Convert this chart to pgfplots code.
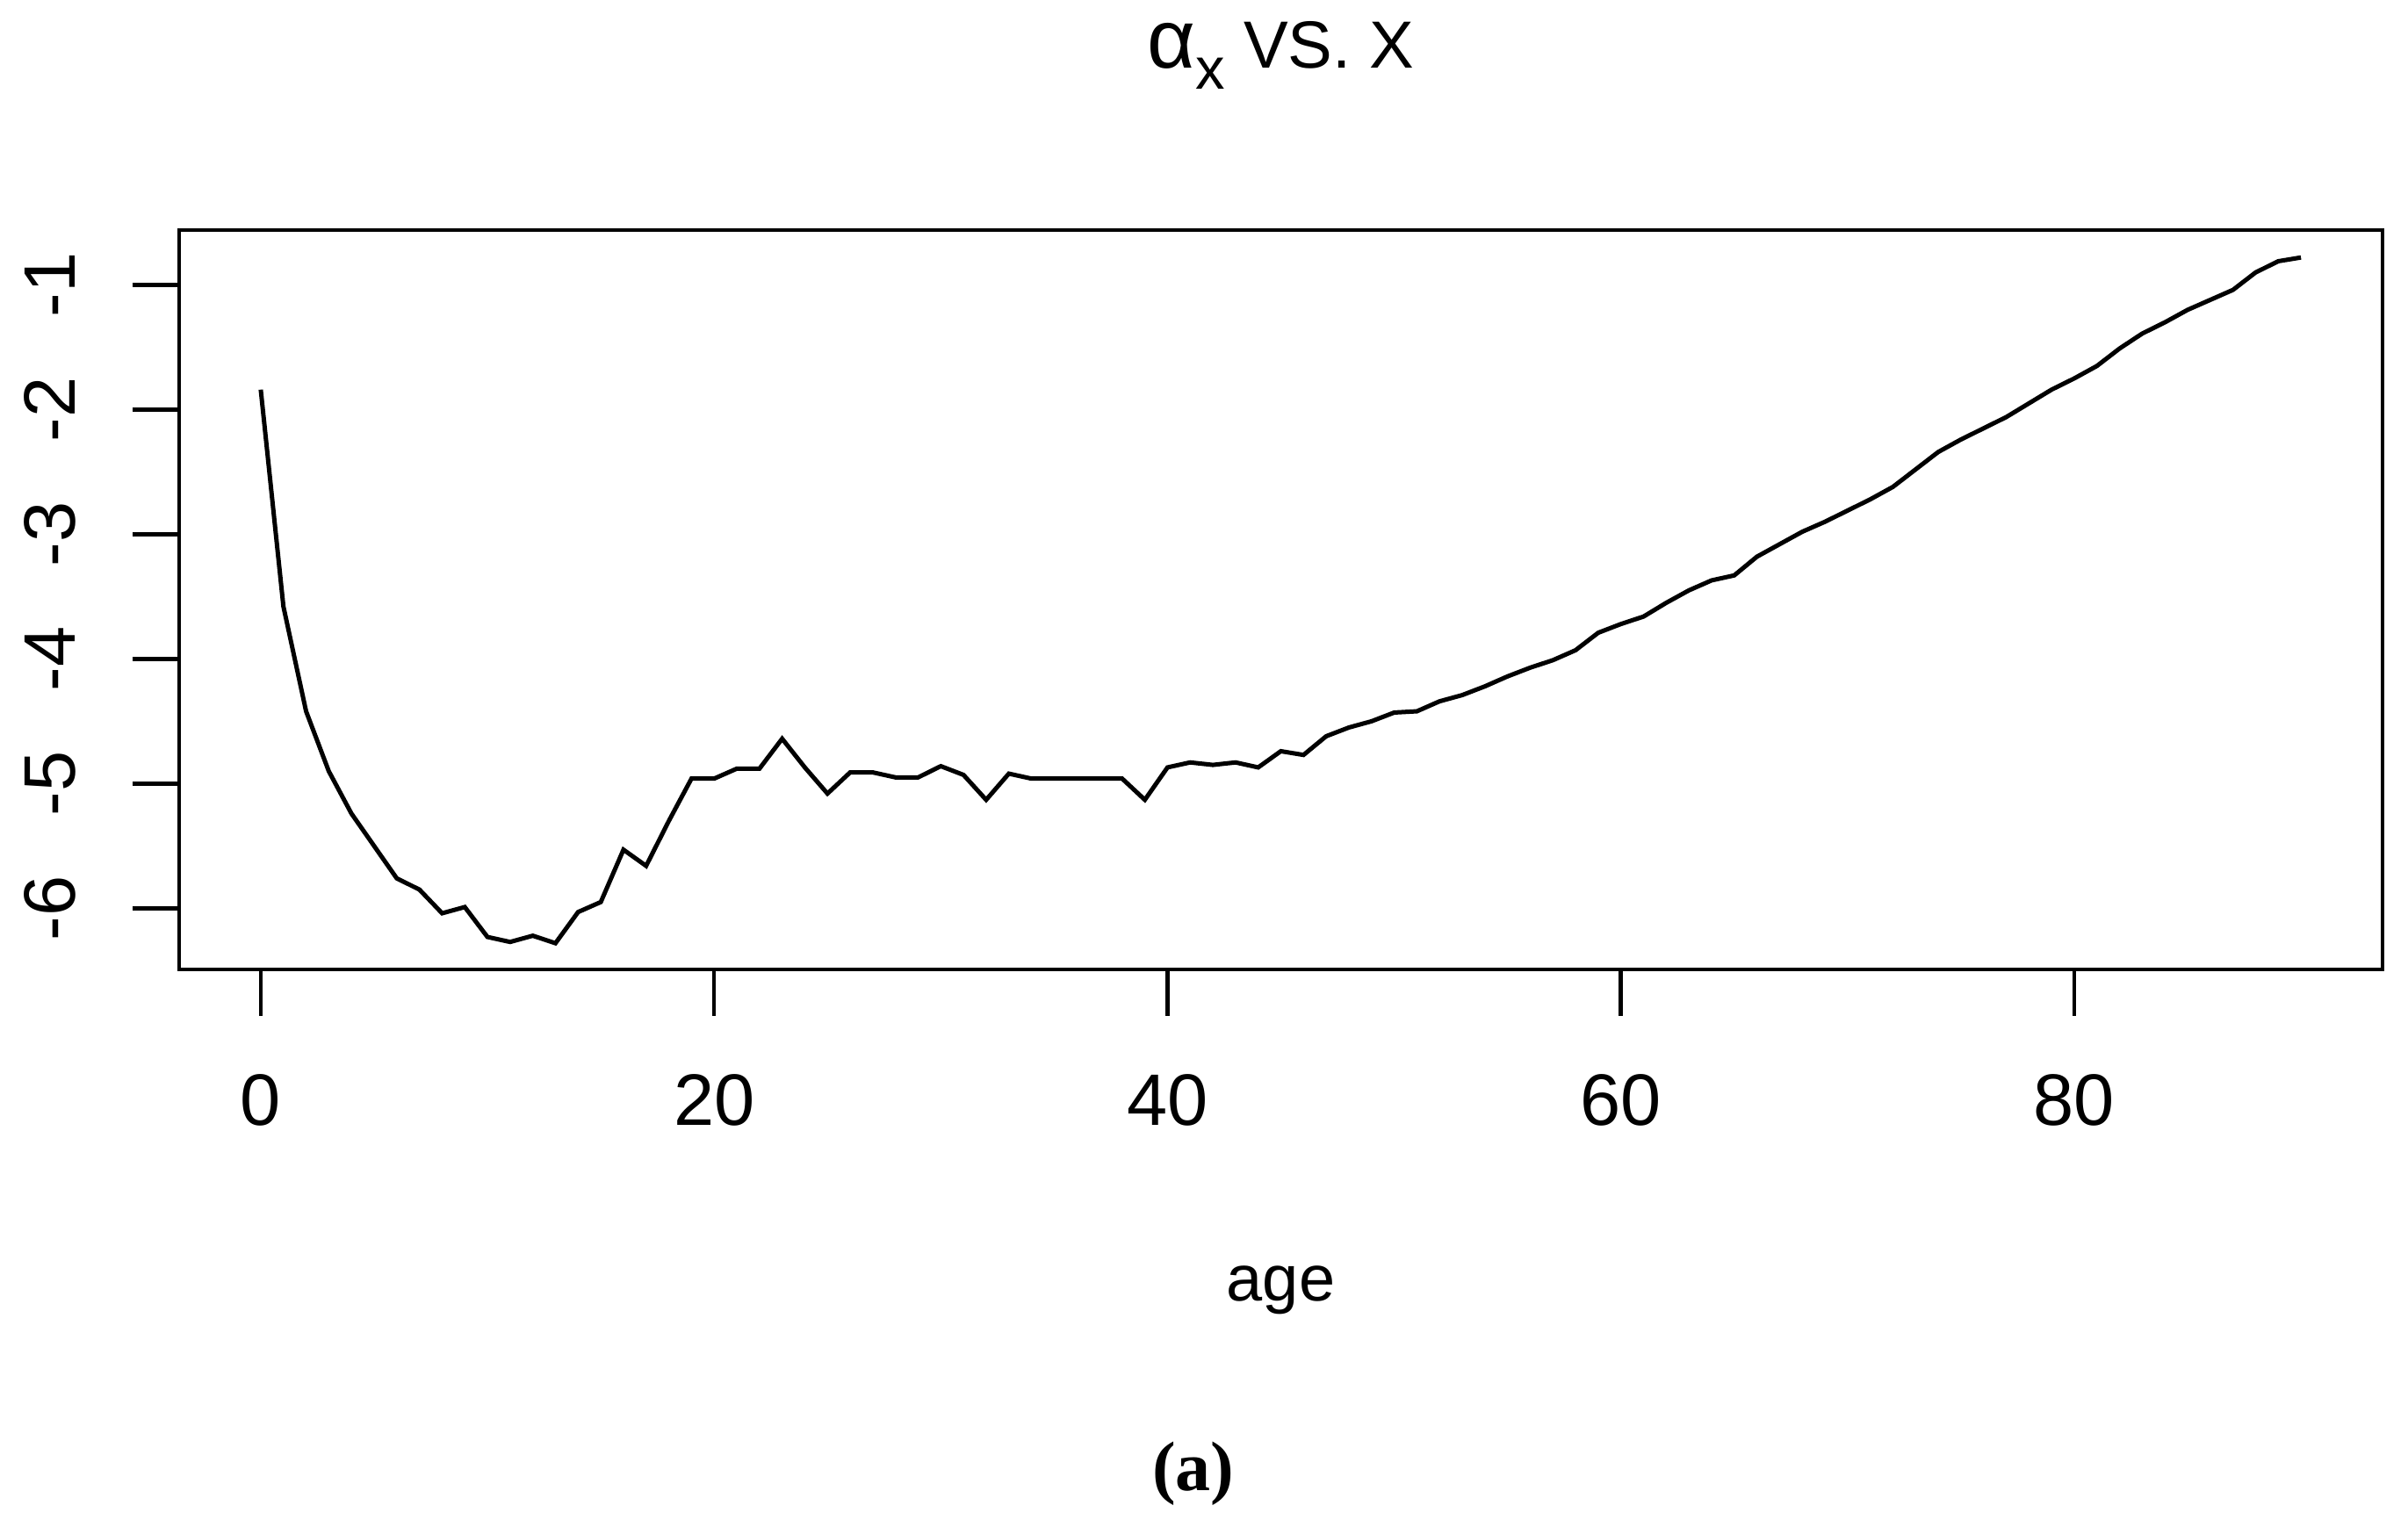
\documentclass[border=0pt]{standalone}
\usepackage{pgfplots}
\pgfplotsset{compat=1.18}
\usepackage{fontspec}
\setmainfont{Liberation Sans}
\newfontfamily\capfont{Liberation Serif}

\pgfplotstableread{
age ax
0 -1.84
1 -3.58
2 -4.42
3 -4.90
4 -5.24
5 -5.50
6 -5.76
7 -5.85
8 -6.04
9 -5.99
10 -6.23
11 -6.27
12 -6.22
13 -6.28
14 -6.03
15 -5.95
16 -5.53
17 -5.66
18 -5.30
19 -4.96
20 -4.96
21 -4.88
22 -4.88
23 -4.64
24 -4.87
25 -5.08
26 -4.91
27 -4.91
28 -4.95
29 -4.95
30 -4.86
31 -4.93
32 -5.13
33 -4.92
34 -4.96
35 -4.96
36 -4.96
37 -4.96
38 -4.96
39 -5.13
40 -4.87
41 -4.83
42 -4.85
43 -4.83
44 -4.87
45 -4.74
46 -4.77
47 -4.62
48 -4.55
49 -4.50
50 -4.43
51 -4.42
52 -4.34
53 -4.29
54 -4.22
55 -4.14
56 -4.07
57 -4.01
58 -3.93
59 -3.79
60 -3.72
61 -3.66
62 -3.55
63 -3.45
64 -3.37
65 -3.33
66 -3.18
67 -3.08
68 -2.98
69 -2.90
70 -2.81
71 -2.72
72 -2.62
73 -2.48
74 -2.34
75 -2.24
76 -2.15
77 -2.06
78 -1.95
79 -1.84
80 -1.75
81 -1.65
82 -1.51
83 -1.39
84 -1.30
85 -1.20
86 -1.12
87 -1.04
88 -0.90
89 -0.81
90 -0.78
}\alphatab

\begin{document}
\begin{tikzpicture}
\path[use as bounding box] (0,0) rectangle (274.2pt,173.1pt);
\begin{axis}[
    at={(20.4pt,62.7pt)}, anchor=south west,
    scale only axis,
    width=250.9pt, height=84.2pt,
    xmin=-3.6, xmax=93.6,
    ymin=-6.49, ymax=-0.56,
    axis line style={line width=0.45pt},
    every tick/.style={black, line width=0.45pt},
    tick align=outside,
    major tick length=5.3pt,
    xtick pos=bottom, ytick pos=left,
    xtick={0,20,40,60,80},
    xticklabels={0,20,40,60,80},
    ytick={-6,-5,-4,-3,-2,-1},
    yticklabels={-6,-5,-4,-3,-2,-1},
    tick label style={font=\fontsize{8.3}{10}\selectfont},
    xticklabel style={anchor=base, yshift=-12.5pt},
    yticklabel style={xshift=-6.5pt, rotate=90, anchor=base},
    title={{\fontsize{9.5}{10}\selectfont α}\raisebox{-2.4pt}{\fontsize{6.7}{8}\selectfont x} VS. X},
    title style={font=\fontsize{7.6}{9}\selectfont, at={(axis description cs:0.5,1)}, anchor=base, yshift=12.4pt},
    xlabel={age},
    xlabel style={font=\fontsize{7.4}{9}\selectfont, at={(axis description cs:0.5,0)}, anchor=base, yshift=-37.8pt},
]
\addplot[black, line width=0.5pt] table[x=age, y=ax] {\alphatab};
\end{axis}
\node[anchor=base, font=\capfont\bfseries\fontsize{8}{10}\selectfont] at (135.9pt,3.3pt) {(a)};
\end{tikzpicture}
\end{document}
